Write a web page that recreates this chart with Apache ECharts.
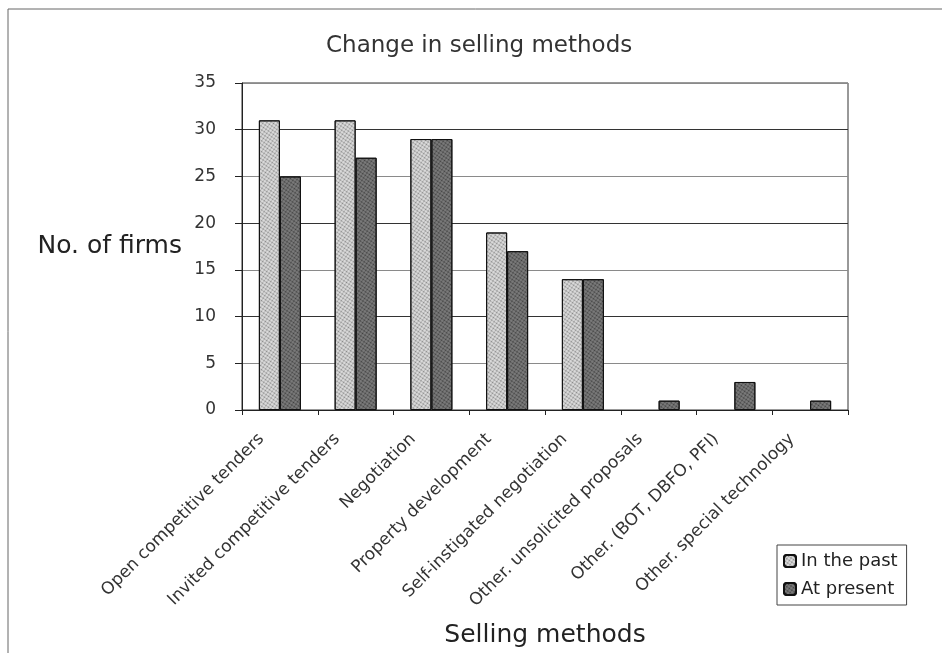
<!DOCTYPE html>
<html>
<head>
<meta charset="utf-8">
<script src="https://cdn.jsdelivr.net/npm/echarts@6/dist/echarts.min.js"></script>
<style>html,body{margin:0;padding:0;background:#fff}#c{width:942px;height:653px}</style>
</head>
<body>
<div id="c"></div>
<script>
const categories = ['Open competitive tenders', 'Invited competitive tenders', 'Negotiation', 'Property development', 'Self-instigated negotiation', 'Other. unsolicited proposals', 'Other. (BOT, DBFO, PFI)', 'Other. special technology'];
const pastValues = [31, 31, 29, 19, 14, 0, 0, 0];
const presentValues = [25, 27, 29, 17, 14, 1, 3, 1];
const seriesNames = ['In the past', 'At present'];
const yTicks = [0, 5, 10, 15, 20, 25, 30, 35];

const FONT = 'DejaVu Sans';
const hideZero = arr => arr.map(v => (v === 0 ? '-' : v));
const chart = echarts.init(document.getElementById('c'), null, {renderer: 'canvas'});
chart.setOption({
  backgroundColor: '#fff',
  animation: false,
  title: {
    text: 'Change in selling methods',
    left: 321, top: 30,
    textStyle: {fontFamily: FONT, fontSize: 23, fontWeight: 'normal', color: '#333'}
  },
  graphic: [{
    type: 'rect', shape: {x: 8, y: 9, width: 960, height: 680},
    style: {fill: 'none', stroke: '#666', lineWidth: 1}, silent: true
  }],
  legend: {
    orient: 'vertical', left: 777, top: 545,
    itemWidth: 12, itemHeight: 12, itemGap: 10,
    padding: [7, 9, 7, 6],
    borderColor: '#444', borderWidth: 1,
    textStyle: {fontFamily: FONT, fontSize: 18, color: '#222'},
    data: seriesNames
  },
  grid: {
    left: 242, right: 94, top: 83, bottom: 242,
    show: true, borderColor: '#333', borderWidth: 1
  },
  xAxis: {
    type: 'category', data: categories,
    name: 'Selling methods', nameLocation: 'middle', nameGap: 213,
    nameTextStyle: {fontFamily: FONT, fontSize: 25, color: '#222'},
    axisLine: {lineStyle: {color: '#222'}},
    axisTick: {show: true, length: 5, lineStyle: {color: '#222'}},
    axisLabel: {rotate: 45, interval: 0, margin: 8, padding: [0, 26, 0, 0], fontFamily: FONT, fontSize: 17, color: '#333'}
  },
  yAxis: {
    type: 'value', min: 0, max: 35, interval: 5,
    name: 'No. of firms', nameLocation: 'middle', nameRotate: 0, nameGap: 60,
    nameTextStyle: {fontFamily: FONT, fontSize: 25, color: '#222', align: 'right', verticalAlign: 'middle'},
    axisLine: {show: true, lineStyle: {color: '#222'}},
    axisTick: {show: true, length: 7, lineStyle: {color: '#222'}},
    axisLabel: {margin: 26, fontFamily: FONT, fontSize: 17, color: '#333',
      formatter: v => yTicks.includes(v) ? String(v) : ''},
    splitLine: {show: true, lineStyle: {color: ['#333', '#8a8a8a'], width: 1}}
  },
  series: [
    {
      name: seriesNames[0], type: 'bar', data: hideZero(pastValues),
      barWidth: 21, barGap: '0%',
      itemStyle: {
        color: '#e3e3e3', borderColor: '#111', borderWidth: 1,
        decal: {symbol: 'circle', symbolSize: 0.7, color: 'rgba(60,60,60,0.55)', dashArrayX: [3, 0], dashArrayY: [3, 0], rotation: 0.6}
      }
    },
    {
      name: seriesNames[1], type: 'bar', data: hideZero(presentValues),
      barWidth: 21,
      itemStyle: {
        color: '#808080', borderColor: '#111', borderWidth: 1,
        decal: {symbol: 'circle', symbolSize: 0.7, color: 'rgba(20,20,20,0.6)', dashArrayX: [3, 0], dashArrayY: [3, 0], rotation: 0.6}
      }
    }
  ]
});
</script>
</body>
</html>
